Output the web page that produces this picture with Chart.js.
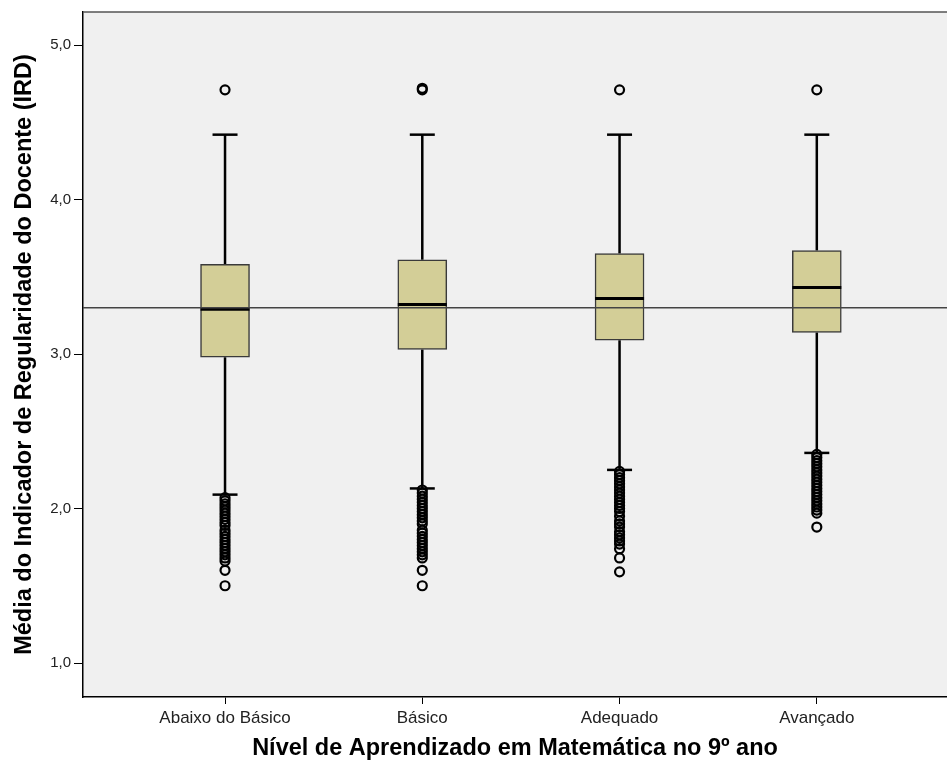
<!DOCTYPE html>
<html lang="pt">
<head>
    <meta charset="UTF-8">
    <title>IRD por Nível de Aprendizado</title>
    <script src="https://cdn.jsdelivr.net/npm/chart.js@4/dist/chart.umd.min.js"></script>
    <style>
        html, body { margin: 0; padding: 0; background: #ffffff; overflow: hidden; }
        #wrap { width: 947px; height: 767px; }
    </style>
</head>
<body>
    <div id="wrap"><canvas id="boxChart" width="947" height="767"></canvas></div>
    <script>
        // categories and box statistics
        const categories = ['Abaixo do Básico', 'Básico', 'Adequado', 'Avançado'];
        const whiskerLow = [2.09, 2.13, 2.25, 2.36];
        const q1 = [2.98, 3.03, 3.09, 3.14];
        const median = [3.29, 3.32, 3.36, 3.43];
        const q3 = [3.58, 3.61, 3.65, 3.67];
        const whiskerHigh = [4.42, 4.42, 4.42, 4.42];
        const refLine = 3.30;

        // outliers (the dense stacks are many overlapping circles)
        const outliers = [
            [4.71, 2.07, 2.05, 2.03, 2.01, 1.99, 1.97, 1.95, 1.93, 1.91, 1.89, 1.86, 1.84, 1.82, 1.80, 1.78,
             1.76, 1.74, 1.72, 1.70, 1.68, 1.66, 1.60, 1.50],
            [4.72, 4.71, 2.12, 2.10, 2.08, 2.06, 2.04, 2.02, 2.00, 1.98, 1.96, 1.94, 1.92, 1.90, 1.86, 1.84,
             1.82, 1.80, 1.78, 1.76, 1.74, 1.72, 1.70, 1.68, 1.60, 1.50],
            [4.71, 2.24, 2.22, 2.20, 2.18, 2.16, 2.14, 2.12, 2.10, 2.08, 2.06, 2.04, 2.02, 2.00, 1.98, 1.95,
             1.92, 1.90, 1.88, 1.85, 1.83, 1.81, 1.79, 1.77, 1.74, 1.68, 1.59],
            [4.71, 2.35, 2.33, 2.31, 2.29, 2.27, 2.25, 2.23, 2.21, 2.19, 2.17, 2.15, 2.13, 2.11, 2.09, 2.07,
             2.05, 2.03, 2.01, 1.99, 1.97, 1.88]
        ];

        const yTicks = [1, 2, 3, 4, 5];

        // build datasets
        const boxData = categories.map((c, i) => ({ x: i + 1, y: [q1[i], q3[i]] }));
        const whiskerData = [];
        categories.forEach((c, i) => {
            whiskerData.push({ x: i + 1, y: whiskerLow[i] }, { x: i + 1, y: q1[i] }, { x: i + 1, y: null });
            whiskerData.push({ x: i + 1, y: q3[i] }, { x: i + 1, y: whiskerHigh[i] }, { x: i + 1, y: null });
        });
        const capData = [];
        categories.forEach((c, i) => {
            capData.push({ x: i + 1, y: whiskerLow[i] }, { x: i + 1, y: whiskerHigh[i] });
        });
        const medianData = categories.map((c, i) => ({ x: i + 1, y: median[i] }));
        const outlierData = [];
        outliers.forEach((list, i) => list.forEach(v => outlierData.push({ x: i + 1, y: v })));

        const fontFamily = '"Liberation Sans", Arial, sans-serif';

        // plot background, top frame and reference line
        const framePlugin = {
            id: 'frame',
            beforeDraw(chart) {
                const { ctx, chartArea: a } = chart;
                ctx.save();
                ctx.fillStyle = '#f0f0f0';
                ctx.fillRect(a.left, a.top, a.right - a.left, a.bottom - a.top);
                ctx.restore();
            },
            afterDatasetsDraw(chart) {
                const { ctx, chartArea: a, scales } = chart;
                const y = scales.y.getPixelForValue(refLine);
                ctx.save();
                ctx.strokeStyle = '#444444';
                ctx.lineWidth = 1.5;
                ctx.beginPath();
                ctx.moveTo(a.left, y);
                ctx.lineTo(a.right, y);
                ctx.stroke();
                ctx.strokeStyle = '#555555';
                ctx.beginPath();
                ctx.moveTo(a.left, a.top);
                ctx.lineTo(a.right, a.top);
                ctx.stroke();
                ctx.restore();
            }
        };

        new Chart(document.getElementById('boxChart'), {
            type: 'bar',
            data: {
                datasets: [
                    {
                        type: 'scatter',
                        label: 'Mediana',
                        data: medianData,
                        pointStyle: 'line',
                        pointRadius: 24.5,
                        borderColor: '#000000',
                        borderWidth: 3,
                        order: 1
                    },
                    {
                        type: 'bar',
                        label: 'Caixa',
                        data: boxData,
                        backgroundColor: '#d3ce97',
                        borderColor: '#3a3a3a',
                        borderWidth: 1.5,
                        borderSkipped: false,
                        barThickness: 49,
                        order: 2
                    },
                    {
                        type: 'scatter',
                        label: 'Limites',
                        data: capData,
                        pointStyle: 'line',
                        pointRadius: 12.5,
                        borderColor: '#000000',
                        borderWidth: 2.5,
                        order: 3
                    },
                    {
                        type: 'line',
                        label: 'Bigodes',
                        data: whiskerData,
                        borderColor: '#000000',
                        borderWidth: 2.5,
                        pointRadius: 0,
                        spanGaps: false,
                        order: 4
                    },
                    {
                        type: 'scatter',
                        label: 'Outliers',
                        data: outlierData,
                        pointStyle: 'circle',
                        pointRadius: 4.5,
                        backgroundColor: 'rgba(0,0,0,0)',
                        borderColor: '#000000',
                        borderWidth: 2.2,
                        order: 5
                    }
                ]
            },
            options: {
                responsive: false,
                animation: false,
                layout: { autoPadding: false, padding: { top: 12, right: 0, left: 0, bottom: 0 } },
                plugins: {
                    legend: { display: false },
                    tooltip: { enabled: false }
                },
                scales: {
                    x: {
                        type: 'linear',
                        offset: false,
                        min: 0.28,
                        max: 4.66,
                        afterBuildTicks: scale => { scale.ticks = categories.map((c, i) => ({ value: i + 1 })); },
                        afterFit: scale => {
                            scale.height = 70;
                            scale.paddingLeft = 0;
                            scale.paddingRight = 0;
                        },
                        ticks: {
                            callback: v => categories[v - 1],
                            color: '#222222',
                            font: { family: fontFamily, size: 17 },
                            padding: 4,
                            maxRotation: 0,
                            autoSkip: false
                        },
                        grid: { offset: false, drawOnChartArea: false, tickLength: 7, color: '#000000', lineWidth: 1 },
                        border: { color: '#000000', width: 1.5 },
                        title: {
                            display: true,
                            text: 'Nível de Aprendizado em Matemática no 9º ano',
                            color: '#000000',
                            font: { family: fontFamily, size: 23.5, weight: 'bold' },
                            padding: { top: 4, bottom: 4 }
                        }
                    },
                    y: {
                        type: 'linear',
                        min: 0.78,
                        max: 5.214,
                        afterBuildTicks: scale => { scale.ticks = yTicks.map(v => ({ value: v })); },
                        afterFit: scale => {
                            scale.width = 83;
                            scale.paddingTop = 0;
                            scale.paddingBottom = 0;
                        },
                        ticks: {
                            callback: v => v.toFixed(1).replace('.', ','),
                            color: '#222222',
                            font: { family: fontFamily, size: 15 },
                            padding: 3
                        },
                        grid: { drawOnChartArea: false, tickLength: 9, color: '#000000', lineWidth: 1 },
                        border: { color: '#000000', width: 1.5 },
                        title: {
                            display: true,
                            text: 'Média do Indicador de Regularidade do Docente (IRD)',
                            color: '#000000',
                            font: { family: fontFamily, size: 23.5, weight: 'bold' },
                            padding: { top: 10, bottom: 6 }
                        }
                    }
                }
            },
            plugins: [framePlugin]
        });
    </script>
</body>
</html>
